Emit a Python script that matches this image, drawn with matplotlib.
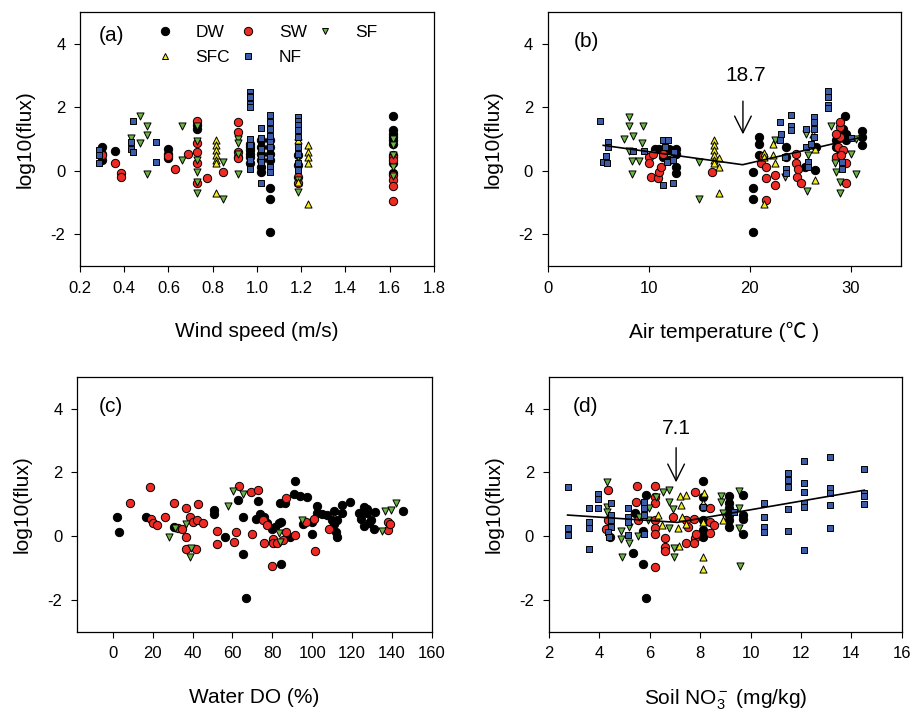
import matplotlib
matplotlib.use('Agg')
import matplotlib.pyplot as plt
from matplotlib.lines import Line2D

plt.rcParams['font.family'] = ['Liberation Sans', 'Noto Sans CJK SC', 'DejaVu Sans']
plt.rcParams['axes.unicode_minus'] = False
plt.rcParams['mathtext.fontset'] = 'custom'
plt.rcParams['mathtext.rm'] = 'Liberation Sans'
plt.rcParams['mathtext.it'] = 'Liberation Sans:italic'

# ---------------- data ----------------
# (a) wind speed
a_dw_x = [0.30, 0.30, 0.30, 0.358, 0.60, 0.60, 0.60, 0.73, 0.73, 0.916,
          0.971, 0.971, 0.971, 0.971, 0.971, 0.971,
          1.017, 1.017, 1.017, 1.017, 1.017, 1.017,
          1.059, 1.059, 1.059, 1.059, 1.059, 1.059, 1.059,
          1.187, 1.187,
          1.616, 1.616, 1.616, 1.616, 1.616, 1.616, 1.616, 1.616, 1.616]
a_dw_y = [0.75, 0.54, 0.35, 0.61, 0.70, 0.54, 0.39, 1.43, 1.32, 0.44,
          0.85, 0.75, 0.65, 0.54, 0.44, 0.23,
          0.96, 0.75, 0.54, 0.33, 0.13, -0.03,
          0.96, 0.75, 0.54, 0.33, -0.55, -0.88, -1.93,
          0.49, 0.18,
          1.72, 1.27, 1.17, 1.06, 0.96, 0.85, 0.49, 0.23, -0.08]
a_sw_x = [0.30, 0.358, 0.385, 0.385, 0.60, 0.629, 0.687,
          0.73, 0.73, 0.73, 0.73, 0.73, 0.773, 0.845,
          0.916, 0.916, 0.916, 0.916, 1.187, 1.187,
          1.616, 1.616, 1.616, 1.616, 1.616, 1.616]
a_sw_y = [0.51, 0.23, -0.08, -0.19, 0.46, 0.05, 0.52,
          1.56, 0.88, 0.60, 0.23, -0.40, -0.22, -0.03,
          1.53, 1.22, 0.60, 0.39, -0.19, -0.40,
          0.44, 0.33, -0.14, -0.29, -0.47, -0.95]
a_sf_x = [0.43, 0.471, 0.471, 0.501, 0.501, 0.501, 0.66, 0.66,
          0.73, 0.73, 0.73, 0.73, 0.73, 0.73, 0.845, 0.845,
          0.916, 0.916, 0.916, 0.916, 1.187, 1.187, 1.187,
          1.616, 1.616, 1.616, 1.616, 1.616]
a_sf_y = [1.03, 1.71, 0.88, 1.40, 1.14, -0.11, 1.40, 0.33,
          1.40, 0.93, 0.33, -0.03, -0.34, -0.69, 0.28, -0.90,
          1.01, 0.88, 0.54, -0.10, 0.44, -0.29, -0.66,
          1.01, 0.80, 0.49, 0.13, -0.16]
a_sfc_x = [0.815, 0.815, 0.815, 0.815, 0.815, 0.815, 0.815,
           1.187, 1.187, 1.187, 1.229, 1.229, 1.229, 1.229, 1.229]
a_sfc_y = [0.96, 0.80, 0.65, 0.49, 0.35, 0.23, -0.69,
           1.11, 0.96, -0.34, 0.80, 0.60, 0.44, 0.23, -1.04]
a_nf_x = [0.287, 0.287, 0.287, 0.43, 0.43, 0.441, 0.441, 0.542, 0.542,
          0.971, 0.971, 0.971, 0.971, 0.971, 0.971, 0.971, 0.971, 0.971,
          1.017, 1.017, 1.017, 1.017, 1.017, 1.017,
          1.059, 1.059, 1.059, 1.059, 1.059, 1.059, 1.059, 1.059, 1.059,
          1.187, 1.187, 1.187, 1.187, 1.187, 1.187, 1.187, 1.187, 1.187]
a_nf_y = [0.65, 0.50, 0.23, 0.90, 0.70, 1.58, 0.60, 0.89, 0.26,
          2.47, 2.36, 2.31, 2.10, 2.02, 1.01, 0.80, 0.33, 0.07,
          1.34, 1.04, 0.70, 0.44, 0.28, -0.40,
          1.77, 1.53, 1.32, 1.11, 0.90, 0.75, 0.44, 0.13, -0.03,
          1.69, 1.58, 1.43, 1.27, 1.06, 0.75, 0.54, 0.23, 0.02]

# (b) air temperature
b_dw_x = [10.67, 11.07, 11.4, 12.06, 12.72, 12.72, 12.72, 12.72, 12.06,
          20.32, 20.32, 20.32, 20.32, 20.91, 20.91, 20.91, 23.62, 23.62,
          25.44, 26.43, 26.59, 28.58, 29.4, 29.24, 29.5, 29.57,
          31.15, 31.15, 31.15, 28.9, 28.58]
b_dw_y = [0.70, 0.70, 0.44, 0.70, 0.70, 0.52, 0.13, -0.06, 0.33,
          -0.03, -0.55, -0.88, -1.93, 1.06, 0.85, 0.49, 0.75, 0.44,
          0.13, 0.02, 0.75, 0.75, 1.72, 1.32, 1.17, 0.96,
          1.25, 1.06, 0.80, 0.65, 0.96]
b_sw_x = [10.0, 10.0, 10.4, 10.24, 10.9, 11.07, 11.23, 11.4, 16.29,
          21.14, 21.31, 21.64, 21.64, 21.64, 22.46, 22.46,
          24.61, 24.61, 24.68, 25.11, 24.78,
          28.51, 28.74, 28.9, 28.97, 28.9, 29.24, 29.5, 29.57, 29.07, 28.58]
b_sw_y = [0.44, 0.23, 0.52, -0.19, -0.24, -0.03, 0.13, 0.54, -0.03,
          0.23, 0.46, 0.13, -0.24, -0.92, -0.14, -0.45,
          0.54, 0.23, -0.19, -0.40, 0.07,
          0.44, 0.75, 1.38, 1.53, 1.06, 0.65, -0.40, 0.23, 0.49, 1.17]
b_sf_x = [7.6, 8.03, 8.03, 8.42, 9.42, 9.35, 8.03, 8.36, 9.02, 8.36,
          15.03, 15.03, 22.46, 23.46, 25.6, 25.67, 25.77,
          28.08, 28.41, 28.51, 28.97, 28.97, 30.06, 30.49, 30.49]
b_sf_y = [1.01, 1.69, 1.40, 1.11, 1.40, 0.88, 0.62, 0.31, 0.31, -0.10,
          0.28, -0.90, 0.96, -0.19, 1.17, -0.63, 0.49,
          1.40, 0.23, -0.03, -0.34, -0.69, 0.52, -0.10, 1.01]
b_sfc_x = [16.42, 16.42, 16.42, 16.42, 16.42, 16.42, 17.01, 17.01, 17.01,
           21.37, 21.37, 21.37, 22.3, 22.3, 22.46, 26.43, 26.43, 26.26]
b_sfc_y = [0.96, 0.80, 0.65, 0.49, 0.33, 0.23, 0.39, 0.13, -0.69,
           0.56, 0.42, -1.04, 0.85, 0.49, 0.23, -0.29, 0.70, 1.17]
b_nf_x = [5.22, 5.45, 5.85, 5.78, 5.95, 5.95, 8.42, 9.58, 11.46, 11.89,
          11.46, 12.39, 11.79, 12.39, 11.66, 12.55,
          23.03, 23.13, 23.03, 24.12, 24.12, 24.12, 23.46, 23.55, 23.55,
          25.6, 25.6, 25.77, 25.77, 26.1, 26.33, 26.33, 26.33, 26.33,
          27.75, 27.75, 27.75, 27.75, 29.17, 29.17, 30.0]
b_nf_y = [1.58, 0.28, 0.23, 0.47, 0.90, 0.75, 0.62, 0.62, 0.98, 0.98,
          -0.45, -0.40, 0.28, 0.33, 0.75, 0.60,
          1.53, 1.17, 0.96, 1.76, 1.40, 1.27, 0.44, 0.07, -0.08,
          1.32, 0.75, 0.28, 0.13, 0.85, 1.69, 1.53, 1.32, 1.06,
          2.50, 2.31, 2.08, 1.98, 0.07, 0.28, 1.04]
b_fit_x = [5.5, 19.3, 31.0]
b_fit_y = [0.80, 0.19, 1.05]
b_break = 18.7

# (c) water DO
c_dw_x = [2.0, 3.0, 16.8, 30.6, 50.8, 50.8, 56.3, 63.0, 65.2, 65.2, 66.9,
          72.6, 71.9, 73.6, 75.6, 77.3, 79.8, 81.5, 83.2, 84.4, 84.4, 83.7,
          86.6, 91.6, 91.1, 94.1, 97.5, 95.5, 100.0, 100.0, 102.5, 102.5,
          105.0, 107.6, 110.1, 110.9, 112.0, 112.3, 112.6, 115.1, 115.1,
          119.0, 124.4, 126.1, 126.1, 127.7, 129.4, 128.6, 131.4, 131.1,
          127.4, 145.4, 123.5, 89.0, 110.9]
c_dw_y = [0.61, 0.14, 0.61, 0.29, 0.82, 0.69, -0.04, 1.13, 0.61, -0.57, -1.94,
          1.10, 0.55, 0.69, 0.61, 0.40, 0.21, 0.29, 0.40, 0.45, -0.88, 1.03,
          1.03, 1.74, 1.32, 1.26, 1.24, 0.38, 0.06, 0.45, 0.94, 0.73,
          0.69, 0.66, 0.52, 0.80, 0.14, -0.04, 0.50, 0.97, 0.71,
          1.08, 0.55, 0.90, 0.31, 0.71, 0.52, 0.40, 0.76, 0.21,
          0.84, 0.80, 0.73, -0.02, 0.38]
c_sw_x = [8.7, 18.8, 19.3, 20.2, 22.2, 26.4, 30.6, 32.8, 34.5, 36.5, 36.6,
          36.5, 38.7, 40.0, 42.0, 42.9, 41.7, 45.0, 52.1, 52.4, 61.0, 62.0,
          63.5, 69.2, 69.7, 72.6, 75.3, 76.0, 77.3, 79.8, 80.3, 80.3, 82.4,
          85.4, 87.1, 87.1, 91.6, 97.1, 100.8, 101.2, 108.4, 138.2, 138.2,
          139.2]
c_sw_y = [1.05, 1.53, 0.55, 0.42, 0.35, 0.61, 1.05, 0.24, 0.21, 0.89, -0.04,
          -0.42, 0.59, 0.45, 0.50, 1.00, -0.42, 0.42, 0.17, -0.25, -0.18, 0.14,
          1.57, 1.39, 0.06, 1.45, 0.52, -0.21, 0.35, -0.94, -0.10, -0.21, -0.21,
          -0.13, 1.21, 0.14, 0.03, 0.45, 0.55, -0.46, 0.21, 0.45, 0.19,
          0.38]
c_sf_x = [28.2, 31.1, 36.6, 38.7, 39.0, 58.0, 60.5, 65.5, 83.2, 84.0,
          95.0, 134.8, 136.5, 139.5, 142.0]
c_sf_y = [-0.04, 0.24, 0.38, -0.67, -0.36, 0.94, 1.42, 1.32, 0.10, -0.18,
          0.52, 0.17, 0.80, 0.82, 1.03]

# (d) soil NO3-
d_dw_x = [5.33, 5.43, 5.73, 5.86, 5.86, 5.73, 8.1, 8.1, 8.1, 8.1, 8.1, 8.1,
          9.16, 9.16, 9.16, 9.16, 9.16, 9.16, 9.69, 9.69, 9.71, 9.71, 4.43]
d_dw_y = [-0.54, 0.71, -0.88, -1.94, 1.29, 0.17, 1.74, 1.24, 0.92, 0.50, 0.19, -0.04,
          1.26, 1.05, 0.87, 0.66, 0.50, 0.29, 1.29, 0.66, 0.06, 0.55, -0.02]
d_sw_x = [4.34, 4.34, 4.27, 5.49, 5.46, 5.53, 6.21, 6.23, 6.23, 6.23, 6.23,
          6.23, 6.23, 6.62, 6.62, 6.62, 6.91, 7.44, 7.44, 7.51, 7.77, 7.81,
          7.77, 7.81, 7.84, 8.39, 8.39, 8.39, 8.57]
d_sw_y = [1.45, 0.50, 0.21, 1.57, 1.08, 0.50, 1.57, 1.24, 1.05, 0.50, 0.24,
          0.08, -0.96, -0.07, -0.34, -0.46, 0.61, -0.21, 0.52, 0.29, 0.55, -0.07,
          -0.21, 1.39, 0.08, 0.87, 0.45, 0.10, 0.35]
d_sf_x = [4.3, 4.3, 4.3, 4.87, 4.87, 4.91, 5.2, 5.2, 5.53, 5.57, 5.92, 5.99,
          6.52, 6.78, 6.76, 6.91, 6.78, 6.98, 6.98, 8.83, 8.83, 8.9,
          9.56, 9.56, 9.56, 9.58, 6.25]
d_sf_y = [1.71, 0.92, 0.76, 0.17, -0.10, -0.67, -0.21, 0.27, 0.00, 0.59, 0.50, 0.87,
          1.39, 1.45, 1.08, 0.84, 0.24, -0.36, -0.67, 1.26, 1.08, 0.71,
          1.42, 0.87, 0.24, -0.94, 1.24]
d_sfc_x = [7.22, 7.44, 7.24, 7.28, 7.11, 7.18, 7.44, 6.49, 6.32, 8.17, 8.1,
           8.1, 8.1, 8.1, 8.9]
d_sfc_y = [1.26, 1.29, 0.97, 0.61, 0.24, -0.31, 0.38, 0.35, 0.66, 1.34, 1.05,
           -0.67, -1.02, 0.45, 0.50]
d_nf_x = [2.75, 2.75, 2.75, 3.59, 3.59, 3.59, 3.59, 3.94, 3.94, 3.94,
          4.47, 4.47, 4.47, 4.47, 4.34, 4.4, 5.13, 5.13, 5.13, 5.13,
          5.79, 5.79, 5.79, 5.79, 10.55, 10.55, 10.55, 10.55,
          11.47, 11.47, 11.47, 11.47, 11.47, 12.13, 12.13, 12.13, 12.13, 12.13, 12.13,
          13.15, 13.15, 13.15, 13.15, 13.15, 14.51, 14.51, 14.51, 14.51, 9.36, 8.1]
d_nf_y = [1.53, 0.24, 0.03, 0.87, 0.45, 0.24, -0.42, 1.32, 1.16, 0.87,
          1.05, 0.66, 0.50, 0.29, 0.14, -0.04, 0.87, 0.61, 0.45, 0.03,
          1.08, 0.87, 0.66, 0.08, 1.05, 0.61, 0.29, 0.14,
          1.99, 1.76, 1.55, 0.85, 0.17, 2.34, 1.68, 1.39, 1.05, 0.90, -0.44,
          2.49, 1.50, 1.36, 0.97, 0.24, 2.09, 1.36, 1.26, 1.01, 0.76, 0.92]
d_fit_x = [2.75, 7.1, 14.51]
d_fit_y = [0.66, 0.43, 1.44]
d_break = 7.1

# ---------------- styles ----------------
STYLE = {
    'DW': dict(marker='o', s=36, color='black'),
    'SW': dict(marker='o', s=36, color='#ee2a24'),
    'SF': dict(marker='v', s=26, color='#6cb544'),
    'SFC': dict(marker='^', s=26, color='#f4ec1c'),
    'NF': dict(marker='s', s=21, color='#3d5ca8'),
}
LSZ = 15
TSZ = 12

fig = plt.figure(figsize=(9.12, 7.11), dpi=100)
axa = fig.add_axes([0.0877, 0.6259, 0.388, 0.3572])
axb = fig.add_axes([0.6005, 0.6259, 0.3877, 0.3572])
axc = fig.add_axes([0.0844, 0.1115, 0.389, 0.3587])
axd = fig.add_axes([0.6016, 0.1115, 0.3874, 0.3587])


def draw(ax, series):
    for name, xs, ys in series:
        st = STYLE[name]
        ax.scatter(xs, ys, marker=st['marker'], s=st['s'], facecolor=st['color'],
                   edgecolor='black', linewidth=0.7, zorder=3)
    ax.set_ylim(-3, 5)
    ax.set_yticks([-2, 0, 2, 4])
    ax.tick_params(direction='out', length=4.5, width=0.8, labelsize=TSZ, pad=6,
                   top=False, right=False)
    for sp in ax.spines.values():
        sp.set_linewidth(0.9)
    ax.set_ylabel('log10(flux)', fontsize=LSZ)
    ax.yaxis.set_label_coords(-0.127, 0.5)


draw(axa, [('DW', a_dw_x, a_dw_y), ('SW', a_sw_x, a_sw_y), ('SF', a_sf_x, a_sf_y),
           ('SFC', a_sfc_x, a_sfc_y), ('NF', a_nf_x, a_nf_y)])
axa.set_xlim(0.2, 1.8)
axa.set_xticks([0.2, 0.4, 0.6, 0.8, 1.0, 1.2, 1.4, 1.6, 1.8])
axa.set_xticklabels(['0.2', '0.4', '0.6', '0.8', '1.0', '1.2', '1.4', '1.6', '1.8'])
axa.set_xlabel('Wind speed (m/s)', fontsize=LSZ)
axa.text(0.343, 4.27, '(a)', fontsize=LSZ, ha='center', va='center')

draw(axb, [('DW', b_dw_x, b_dw_y), ('SW', b_sw_x, b_sw_y), ('SF', b_sf_x, b_sf_y),
           ('SFC', b_sfc_x, b_sfc_y), ('NF', b_nf_x, b_nf_y)])
axb.plot(b_fit_x, b_fit_y, color='black', lw=1.2, zorder=4)
axb.set_xlim(0, 35)
axb.set_xticks([0, 10, 20, 30])
axb.set_xlabel('Air temperature (\u2103 )', fontsize=LSZ)
axb.text(3.8, 4.08, '(b)', fontsize=LSZ, ha='center', va='center')
axb.annotate('', xy=(19.33, 1.06), xytext=(19.33, 2.28),
             arrowprops=dict(arrowstyle='->,head_length=1.2,head_width=0.6',
                             lw=1, color='black'))
axb.text(19.6, 2.99, str(b_break), fontsize=LSZ, ha='center', va='center')

draw(axc, [('DW', c_dw_x, c_dw_y), ('SW', c_sw_x, c_sw_y), ('SF', c_sf_x, c_sf_y)])
axc.set_xlim(-18, 160)
axc.set_xticks([0, 20, 40, 60, 80, 100, 120, 140, 160])
axc.set_xlabel('Water DO (%)', fontsize=LSZ)
axc.text(-0.8, 4.08, '(c)', fontsize=LSZ, ha='center', va='center')

draw(axd, [('DW', d_dw_x, d_dw_y), ('SW', d_sw_x, d_sw_y), ('SF', d_sf_x, d_sf_y),
           ('SFC', d_sfc_x, d_sfc_y), ('NF', d_nf_x, d_nf_y)])
axd.plot(d_fit_x, d_fit_y, color='black', lw=1.2, zorder=4)
axd.set_xlim(2, 16)
axd.set_xticks([2, 4, 6, 8, 10, 12, 14, 16])
axd.set_xlabel('Soil NO$_3^-$ (mg/kg)', fontsize=LSZ)
axd.text(3.45, 4.08, '(d)', fontsize=LSZ, ha='center', va='center')
axd.annotate('', xy=(7.05, 1.6), xytext=(7.05, 2.86),
             arrowprops=dict(arrowstyle='->,head_length=1.2,head_width=0.6',
                             lw=1, color='black'))
axd.text(7.05, 3.38, str(d_break), fontsize=LSZ, ha='center', va='center')

for ax in (axa, axb, axc, axd):
    ax.xaxis.set_label_coords(0.5, -0.22)

# legend in (a): rows DW SW SF / SFC NF
def h(name, ms):
    st = STYLE[name]
    return Line2D([], [], ls='none', marker=st['marker'], ms=ms, mfc=st['color'],
                  mec='black', mew=0.7, label=name)

handles = [h('DW', 6), h('SFC', 4.5), h('SW', 6), h('NF', 4), h('SF', 4.5)]
axa.legend(handles=handles, ncol=3, frameon=False, loc='upper left',
           bbox_to_anchor=(0.172, 0.976), borderaxespad=0, fontsize=12.5,
           labelspacing=0.55, columnspacing=0.05, handletextpad=0.75)

fig.savefig('out.png', dpi=100)
